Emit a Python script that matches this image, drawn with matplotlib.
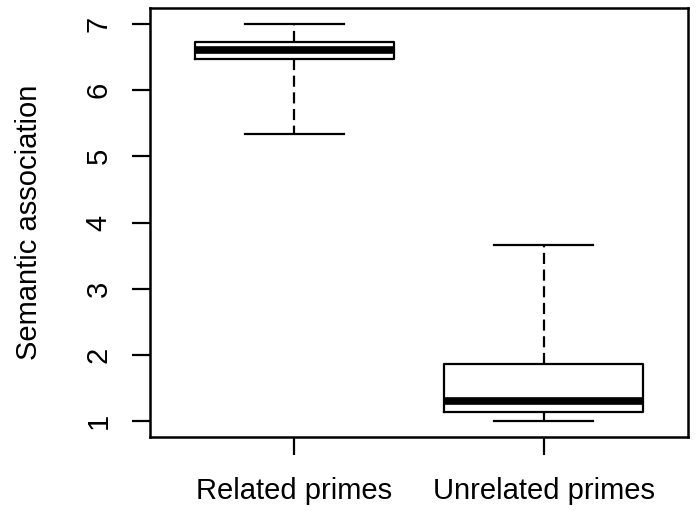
import matplotlib
matplotlib.use("Agg")
import matplotlib.pyplot as plt

# box stats
groups = ["Related primes", "Unrelated primes"]
whis_lo = [5.333, 1.0]
q1 = [6.467, 1.133]
med = [6.6, 1.3]
q3 = [6.733, 1.867]
whis_hi = [7.0, 3.667]
yticks = [1, 2, 3, 4, 5, 6, 7]

plt.rcParams['font.family'] = ['Liberation Sans', 'DejaVu Sans']

fig = plt.figure(figsize=(6.99, 5.15), dpi=100)
ax = fig.add_axes([150 / 699, 1 - 437 / 515, 538 / 699, 429 / 515])

stats = []
for i in range(len(groups)):
    stats.append(dict(whislo=whis_lo[i], q1=q1[i], med=med[i], q3=q3[i],
                      whishi=whis_hi[i], fliers=[], label=groups[i]))

ax.bxp(stats, positions=[1, 2], widths=0.8, showfliers=False,
       boxprops=dict(color="black", linewidth=1.6),
       medianprops=dict(color="black", linewidth=5.5, solid_capstyle="butt"),
       whiskerprops=dict(color="black", linewidth=1.6, linestyle=(0, (5, 2.5))),
       capprops=dict(color="black", linewidth=1.6),
       capwidths=0.4)

ax.set_xlim(0.42, 2.58)
ax.set_ylim(0.76, 7.24)
ax.set_yticks(yticks)
ax.set_yticklabels([str(v) for v in yticks], rotation=90, va="center")
ax.set_ylabel("Semantic association", fontsize=21, labelpad=30)

for s in ax.spines.values():
    s.set_linewidth(1.8)
ax.tick_params(axis="both", length=13, width=1.6, labelsize=21)
ax.tick_params(axis="y", pad=14)
ax.tick_params(axis="x", pad=16)

fig.savefig("out.png", dpi=100)
